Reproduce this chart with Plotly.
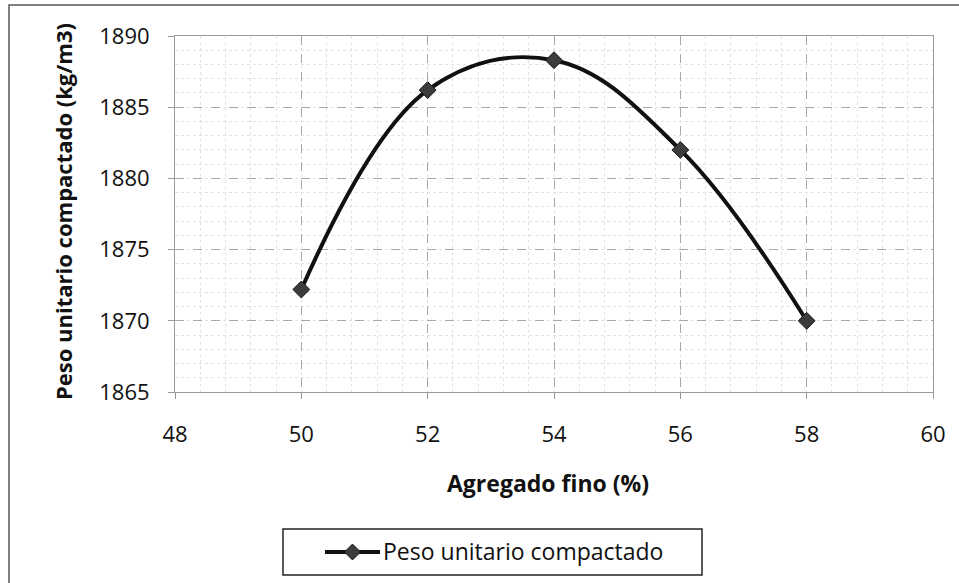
import plotly.graph_objects as go

# Fine aggregate content (%) and compacted unit weight (kg/m3)
agregado_fino = [50, 52, 54, 56, 58]
peso_unitario = [1872.2, 1886.2, 1888.3, 1882.0, 1870.0]

x_ticks = [48, 50, 52, 54, 56, 58, 60]
y_ticks = [1865, 1870, 1875, 1880, 1885, 1890]

serie_nombre = "Peso unitario compactado"
titulo_x = "Agregado fino (%)"
titulo_y = "Peso unitario compactado (kg/m3)"

FONT = "'Open Sans', Lato, sans-serif"
W, H = 959, 583
ML, MR, MT, MB = 175, 26, 36, 191

fig = go.Figure()
fig.add_trace(go.Scatter(
    x=agregado_fino, y=peso_unitario, name=serie_nombre,
    mode="lines+markers",
    line=dict(color="#111111", width=4, shape="spline", smoothing=1.1),
    marker=dict(symbol="diamond", size=13, color="#3c3c3c",
                line=dict(color="#1a1a1a", width=1)),
    showlegend=False,
))

grid_major = dict(showgrid=True, gridcolor="#a8a8a8", gridwidth=1, griddash="dash")
minor_x = dict(dtick=0.4, showgrid=True, gridcolor="#e2e2e2", griddash="dot", gridwidth=1)
minor_y = dict(dtick=1, showgrid=True, gridcolor="#e2e2e2", griddash="dot", gridwidth=1)

fig.update_xaxes(
    range=[x_ticks[0], x_ticks[-1]], tickvals=x_ticks, ticktext=[str(v) for v in x_ticks],
    **grid_major, minor=minor_x,
    showline=True, linecolor="#9a9a9a", linewidth=1, mirror=True,
    ticks="outside", ticklen=6, tickcolor="#9a9a9a",
    ticklabelstandoff=17,
    tickfont=dict(family=FONT, size=22, color="#111111"),
    zeroline=False,
)
fig.update_yaxes(
    range=[y_ticks[0], y_ticks[-1]], tickvals=y_ticks, ticktext=[str(v) for v in y_ticks],
    **grid_major, minor=minor_y,
    showline=True, linecolor="#9a9a9a", linewidth=1, mirror=True,
    ticks="outside", ticklen=6, tickcolor="#9a9a9a",
    ticklabelstandoff=14,
    tickfont=dict(family=FONT, size=22, color="#111111"),
    zeroline=False,
)

pw = W - ML - MR
ph = H - MT - MB


def px(xp):
    return (xp - ML) / pw


def py(yp):
    return 1 - (yp - MT) / ph


annotations = [
    dict(text=f"<b>{titulo_x}</b>", x=px(548), y=py(483), xref="paper", yref="paper",
         showarrow=False, xanchor="center", yanchor="middle",
         font=dict(family=FONT, size=23, color="#111111")),
    dict(text=f"<b>{titulo_y}</b>", x=px(63), y=py(212), xref="paper", yref="paper",
         showarrow=False, xanchor="center", yanchor="middle", textangle=-90,
         font=dict(family=FONT, size=22, color="#111111")),
    dict(text=serie_nombre, x=px(381), y=py(551), xref="paper", yref="paper",
         showarrow=False, xanchor="left", yanchor="middle",
         font=dict(family=FONT, size=23, color="#111111")),
]

# legend drawn by hand: frame, line sample and diamond
lx0, lx1, ly = 325, 380, 552
d = 8
shapes = [
    dict(type="rect", xref="paper", yref="paper",
         x0=px(9), x1=px(975), y0=py(5), y1=py(600),
         line=dict(color="#555555", width=1.5)),
    dict(type="rect", xref="paper", yref="paper",
         x0=px(283), x1=px(702), y0=py(529), y1=py(575),
         line=dict(color="#222222", width=1.5)),
    dict(type="line", xref="paper", yref="paper",
         x0=px(lx0), x1=px(lx1), y0=py(ly), y1=py(ly),
         line=dict(color="#111111", width=4)),
    dict(type="path", xref="paper", yref="paper",
         path=(f"M {px((lx0+lx1)/2)},{py(ly-d)} L {px((lx0+lx1)/2+d)},{py(ly)} "
               f"L {px((lx0+lx1)/2)},{py(ly+d)} L {px((lx0+lx1)/2-d)},{py(ly)} Z"),
         fillcolor="#3c3c3c", line=dict(color="#1a1a1a", width=1)),
]

fig.update_layout(
    width=W, height=H,
    margin=dict(l=ML, r=MR, t=MT, b=MB, autoexpand=False),
    paper_bgcolor="white", plot_bgcolor="white",
    annotations=annotations, shapes=shapes,
    showlegend=False,
)

fig.write_html("out.html")
